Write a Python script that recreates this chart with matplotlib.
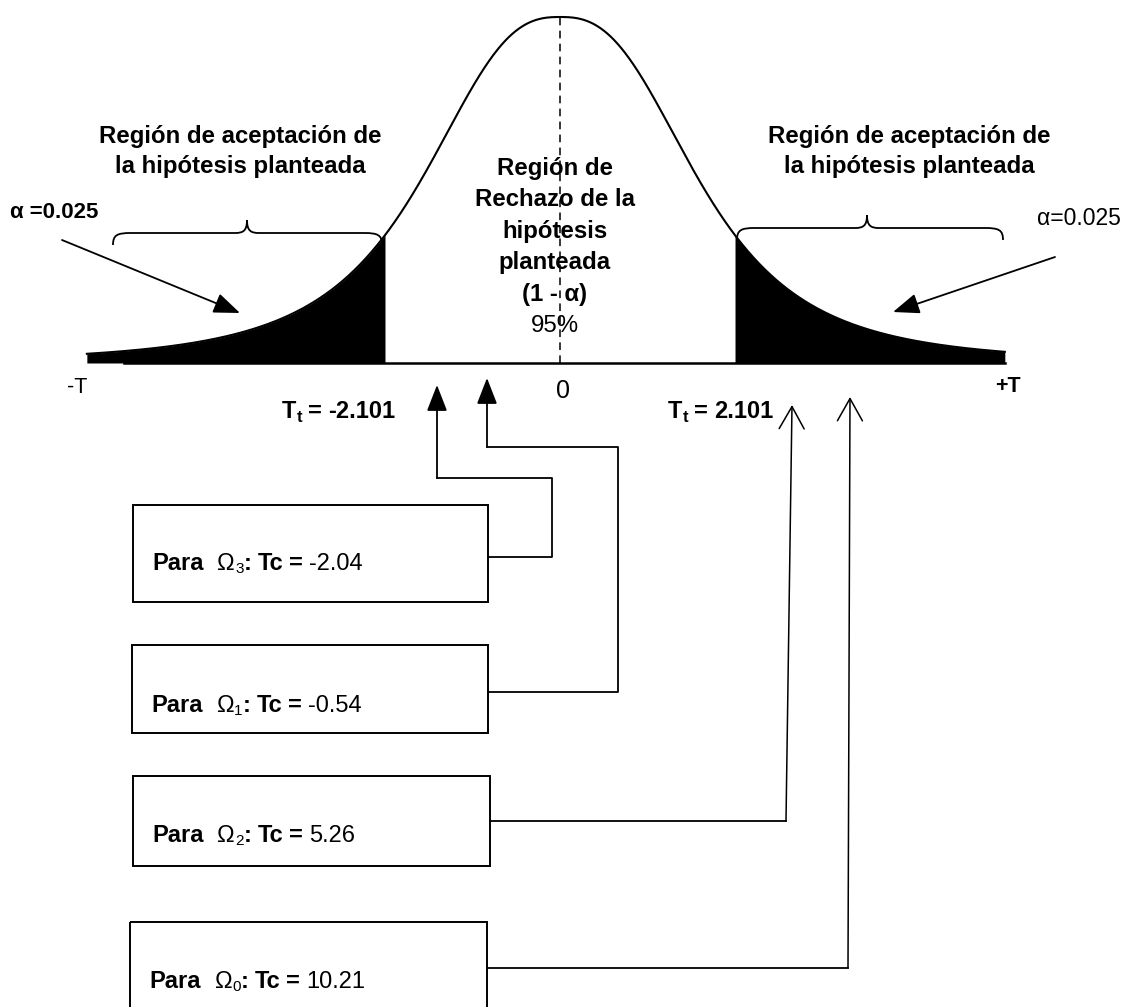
import matplotlib
matplotlib.use("Agg")
import matplotlib.pyplot as plt
import numpy as np
from matplotlib.path import Path
from matplotlib.patches import PathPatch, Rectangle

plt.rcParams['font.family'] = ['Liberation Sans', 'DejaVu Sans']

# datos de la prueba
t_critico = 2.101
alfa = 0.025
confianza = 95
subindices = ['3', '1', '2', '0']          # Ω3, Ω1, Ω2, Ω0
tc_valores = [-2.04, -0.54, 5.26, 10.21]
texto_aceptacion = ['Región de aceptación de', 'la hipótesis planteada']
texto_rechazo = ['Región de', 'Rechazo de la', 'hipótesis', 'planteada', '(1 - α)']

# forma (esquemática) de la campana, en unidades t
t_izq, t_der = -5.68, 5.34
escala_campana = 1.99


def campana(t):
    # campana de altura maxima 1, cima ancha y colas largas
    return (1 + np.abs(t / escala_campana) ** 2.6) ** -1.3


W, H = 1129, 1007
fig = plt.figure(figsize=(W / 100, H / 100), dpi=100)

# ejes de la curva: x en unidades t, y en densidad relativa
px_t, x_cero, y_base, alto = 83.3, 560, 363, 346
ax = fig.add_axes([0, 0, 1, 1])
ax.set_xlim(-x_cero / px_t, (W - x_cero) / px_t)
ax.set_ylim((y_base - H) / alto, y_base / alto)
ax.axis('off')

t = np.linspace(t_izq, t_der, 800)
ax.plot(t, campana(t), color='black', lw=1.5)
tl = np.linspace(t_izq, -t_critico, 300)
ax.fill_between(tl, 0, campana(tl), color='black', lw=0)
tr = np.linspace(t_critico, t_der, 300)
ax.fill_between(tr, 0, campana(tr), color='black', lw=0)
ax.plot([t_izq + 0.45, t_der], [0, 0], color='black', lw=1.8)
ax.plot([0, 0], [0, 1], color='black', lw=1.1, ls=(0, (5, 3.5)))

# capa de anotaciones en pixeles
ov = fig.add_axes([0, 0, 1, 1])
ov.set_xlim(0, W)
ov.set_ylim(H, 0)
ov.axis('off')
ren = fig.canvas.get_renderer()


def linea(x, y, trozos):
    # trozos: (texto, peso, tamaño, desplazamiento_y, hueco_despues)
    cx = x
    for s, peso, tam, dy, hueco in trozos:
        a = ov.text(cx, y + dy, s, fontsize=tam, fontweight=peso,
                    va='baseline', ha='left')
        cx += a.get_window_extent(ren).width + hueco


# textos de las regiones
for cx in (240, 909):
    for i, s in enumerate(texto_aceptacion):
        ov.text(cx, 143 + 30 * i, s, ha='center', va='baseline',
                fontsize=17.3, fontweight='bold')
for i, s in enumerate(texto_rechazo):
    ov.text(555, 175 + 31.4 * i, s, ha='center', va='baseline',
            fontsize=17.3, fontweight='bold')
ov.text(555, 175 + 31.4 * 5, f'{confianza}%', ha='center', va='baseline',
        fontsize=17.3)

ov.text(10, 218, f'α ={alfa}', ha='left', va='baseline', fontsize=16,
        fontweight='bold')
ov.text(1037, 225, f'α={alfa}', ha='left', va='baseline', fontsize=16.5)

# etiquetas del eje
ov.text(87, 393, '-T', ha='right', va='baseline', fontsize=15.5)
ov.text(995, 392, '+T', ha='left', va='baseline', fontsize=15.5,
        fontweight='bold')
ov.text(563, 398, '0', ha='center', va='baseline', fontsize=18)
linea(282, 418, [('T', 'bold', 17, 0, 0), ('t', 'bold', 12, 4, 6),
                 ('=', 'bold', 17, 0, 6), (f'{-t_critico}', 'bold', 17, 0, 0)])
linea(668, 418, [('T', 'bold', 17, 0, 0), ('t', 'bold', 12, 4, 6),
                 ('=', 'bold', 17, 0, 6), (f'{t_critico}', 'bold', 17, 0, 0)])


# llaves
def llave(x0, x1, xm, yf, caida, pico):
    v = [(x0, yf + caida), (x0, yf + 2), (x0 + 4, yf), (x0 + 18, yf),
         (xm - 12, yf),
         (xm - 4, yf), (xm, yf - 2), (xm, yf - pico),
         (xm, yf - 2), (xm + 4, yf), (xm + 12, yf),
         (x1 - 18, yf),
         (x1 - 4, yf), (x1, yf + 2), (x1, yf + caida)]
    c = [Path.MOVETO, Path.CURVE4, Path.CURVE4, Path.CURVE4, Path.LINETO,
         Path.CURVE4, Path.CURVE4, Path.CURVE4,
         Path.CURVE4, Path.CURVE4, Path.CURVE4, Path.LINETO,
         Path.CURVE4, Path.CURVE4, Path.CURVE4]
    ov.add_patch(PathPatch(Path(v, c), fill=False, lw=1.3, color='black'))


llave(113, 382, 247, 233, 12, 13)
llave(737, 1003, 867, 228, 12, 13)

# flechas de alfa
flecha_llena = dict(arrowstyle='-|>,head_length=0.9,head_width=0.35',
                    color='black', lw=1.3, shrinkA=0, shrinkB=0,
                    mutation_scale=18)
flecha_abierta = dict(arrowstyle='->,head_length=0.8,head_width=0.45',
                      color='black', lw=1.1, shrinkA=0, shrinkB=0,
                      mutation_scale=20)
ov.annotate('', xy=(240, 313), xytext=(62, 240), arrowprops=flecha_llena)
ov.annotate('', xy=(893, 312), xytext=(1055, 257), arrowprops=flecha_llena)

# cajas de Tc
cajas = [(133, 505, 355, 97), (132, 645, 356, 88), (133, 776, 357, 90),
         (130, 922, 357, 100)]
base_txt = [570, 712, 842, 988]
for (bx, by, bw, bh), yb, sub, v in zip(cajas, base_txt, subindices, tc_valores):
    ov.add_patch(Rectangle((bx, by), bw, bh, fill=False, lw=1.4,
                           color='black'))
    linea(bx + 19, yb, [('Para', 'bold', 17, 0, 14), ('Ω', 'normal', 17, 0, 0),
                        (sub, 'normal', 11, 3, 0), (':', 'bold', 17, 0, 6),
                        ('Tc', 'bold', 17, 0, 6), ('=', 'bold', 17, 0, 6),
                        (f'{v:g}', 'normal', 17, 0, 0)])

# conectores
ov.annotate('', xy=(437, 385), xytext=(437, 478), arrowprops=flecha_llena)
ov.plot([437, 552, 552, 488], [478, 478, 557, 557], color='black', lw=1.3)
ov.annotate('', xy=(487, 378), xytext=(487, 447), arrowprops=flecha_llena)
ov.plot([487, 618, 618, 488], [447, 447, 692, 692], color='black', lw=1.3)
ov.annotate('', xy=(792, 405), xytext=(786, 821), arrowprops=flecha_abierta)
ov.plot([786, 490], [821, 821], color='black', lw=1.3)
ov.annotate('', xy=(850, 397), xytext=(848, 968), arrowprops=flecha_abierta)
ov.plot([848, 487], [968, 968], color='black', lw=1.3)

fig.savefig('out.png', dpi=100)
